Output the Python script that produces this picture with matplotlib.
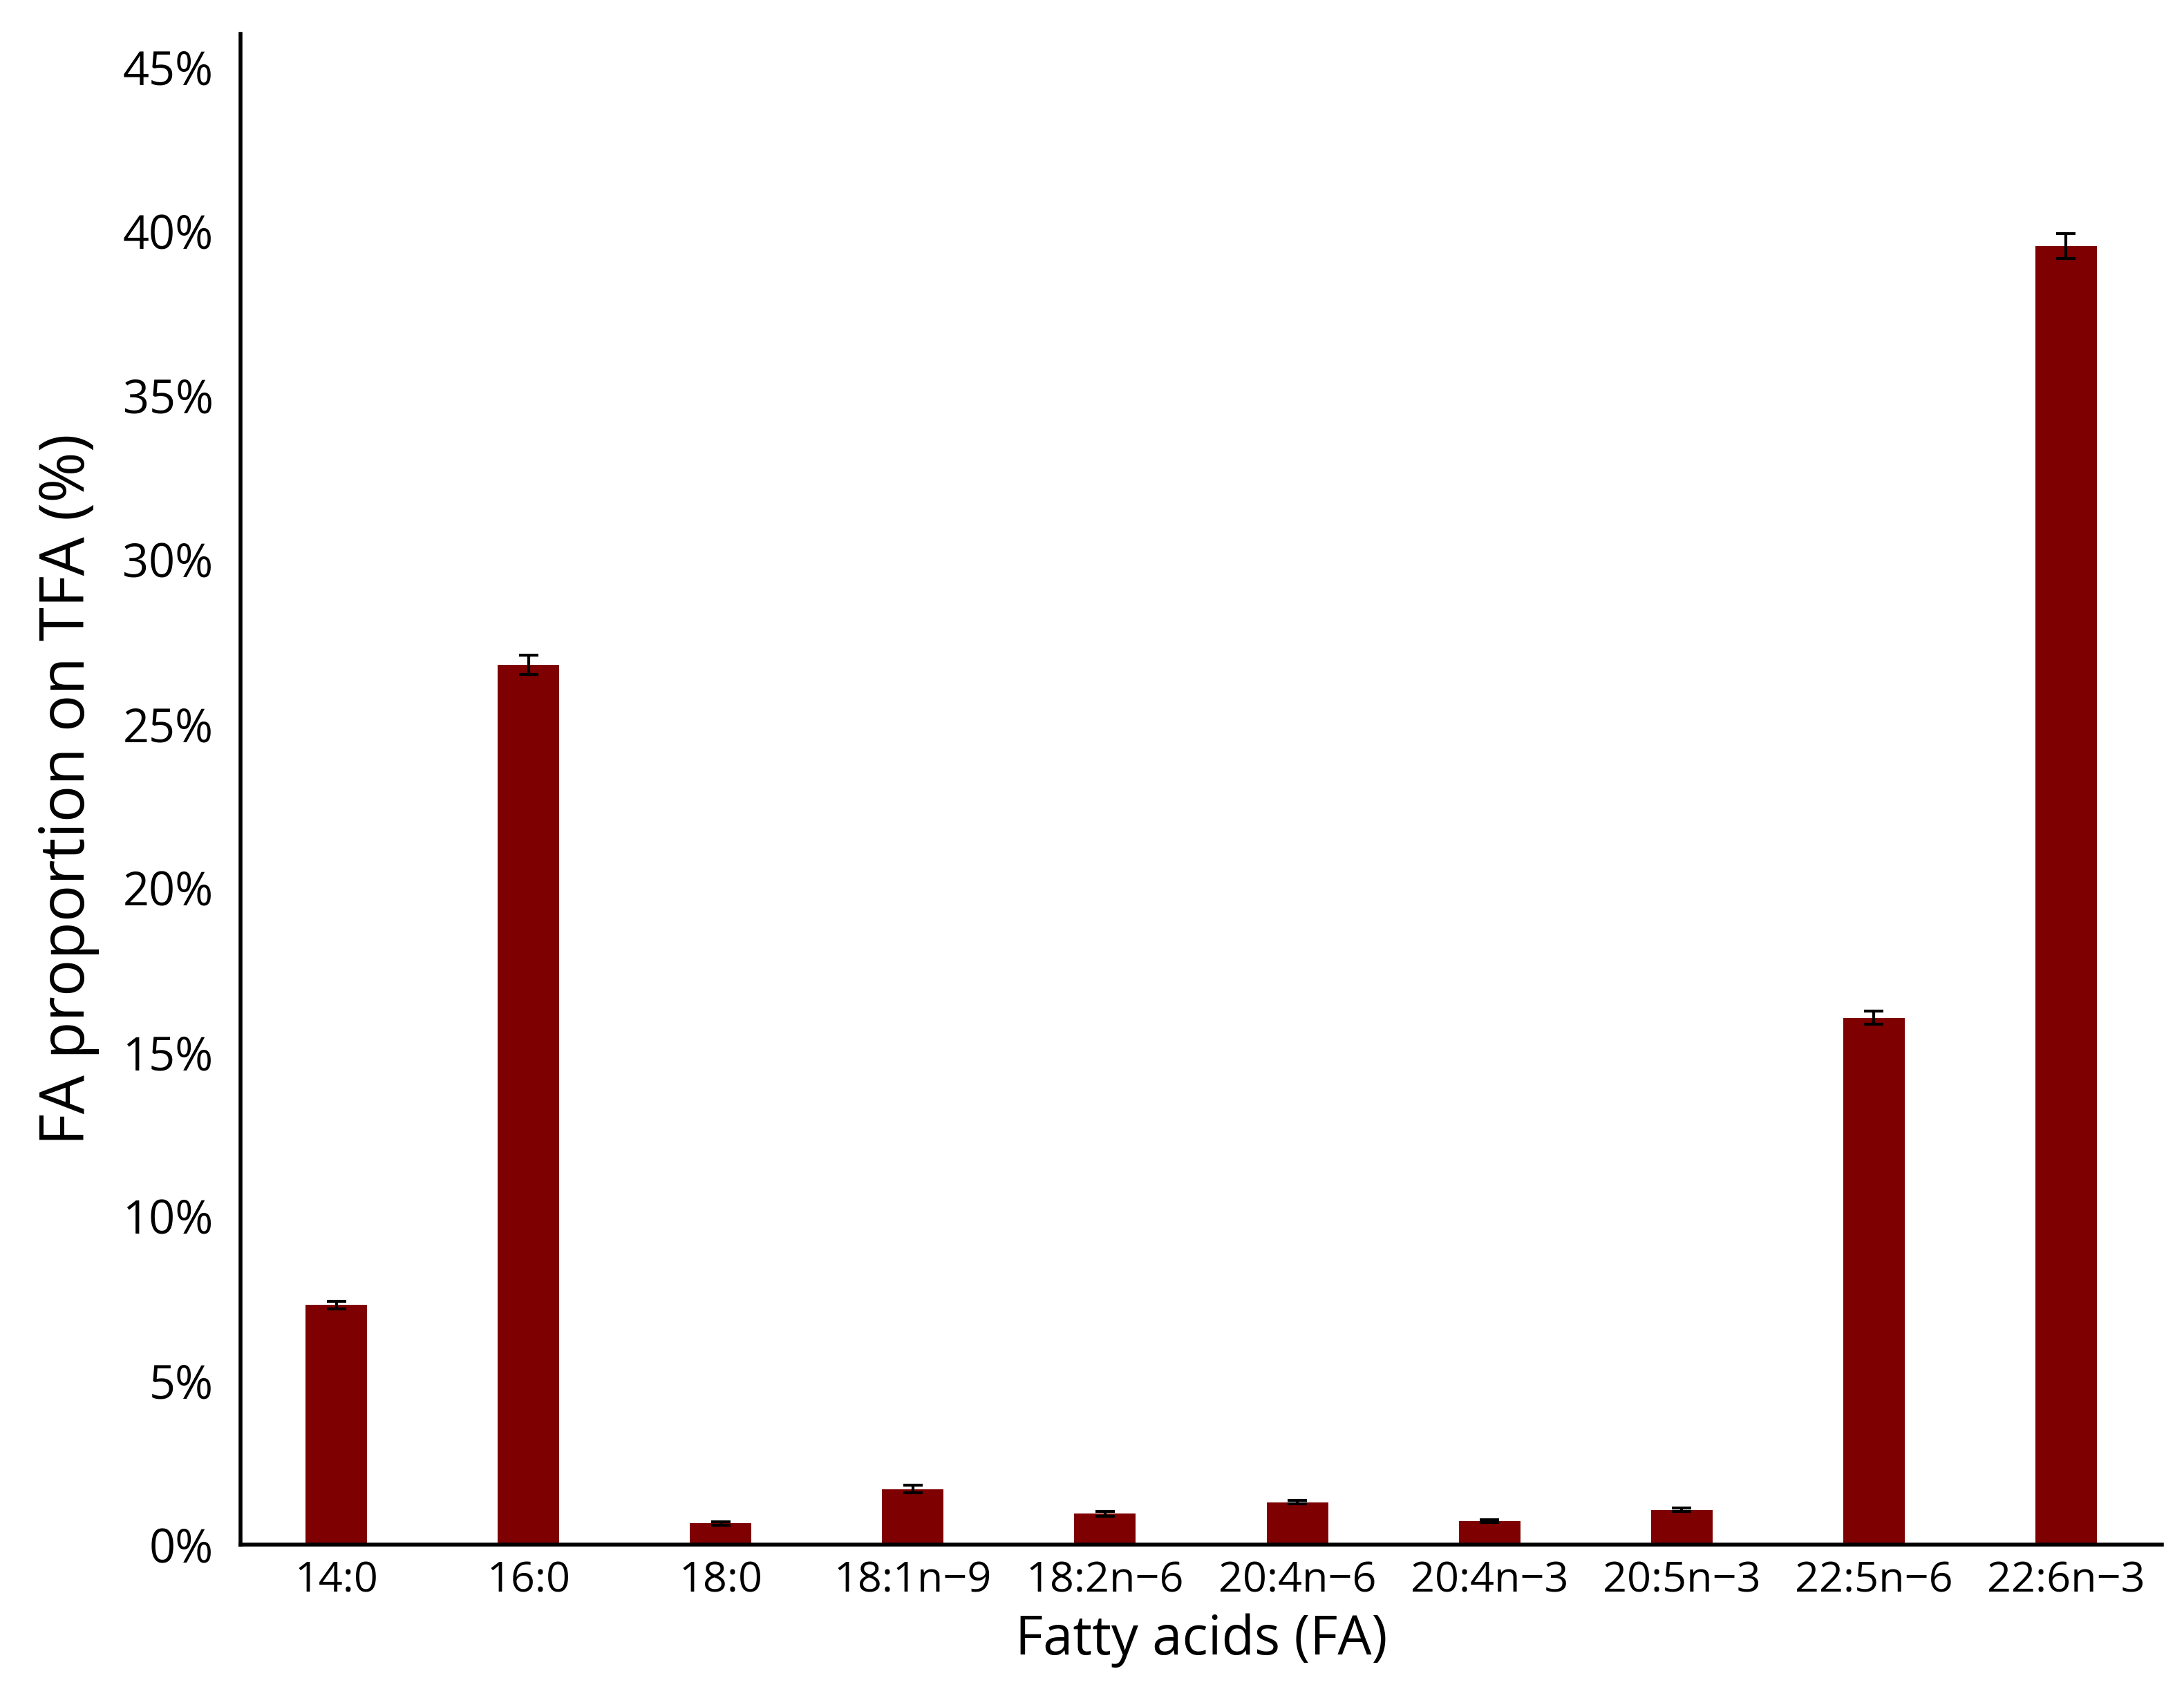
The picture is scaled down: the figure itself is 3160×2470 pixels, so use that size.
import matplotlib
matplotlib.use("Agg")
import matplotlib.pyplot as plt
from matplotlib.ticker import PercentFormatter

categories = ["14:0", "16:0", "18:0", "18:1n\u22129", "18:2n\u22126", "20:4n\u22126",
              "20:4n\u22123", "20:5n\u22123", "22:5n\u22126", "22:6n\u22123"]
values = [7.3, 26.8, 0.65, 1.7, 0.95, 1.3, 0.72, 1.07, 16.05, 39.55]
errors = [0.12, 0.3, 0.05, 0.12, 0.07, 0.05, 0.04, 0.05, 0.2, 0.38]

plt.rcParams['font.family'] = ['Open Sans', 'DejaVu Sans']
fig = plt.figure(figsize=(15.8, 12.35), dpi=200)
ax = fig.add_axes([0.11, 0.095, 0.88, 0.885])
x = range(len(categories))
ax.bar(x, values, width=0.32, color="#7f0000", yerr=errors,
       error_kw=dict(ecolor="black", elinewidth=1.5, capsize=5, capthick=1.5))
ax.set_xlim(-0.5, 9.5)
ax.set_ylim(0, 46)
ax.set_yticks(range(0, 46, 5))
ax.yaxis.set_major_formatter(PercentFormatter(decimals=0))
ax.set_xticks(list(x))
ax.set_xticklabels(categories)
ax.tick_params(axis='y', labelsize=24, length=0, pad=14)
ax.tick_params(axis='x', labelsize=22, length=0, pad=8)
for s in ["top", "right"]:
    ax.spines[s].set_visible(False)
ax.spines["left"].set_linewidth(2)
ax.spines["bottom"].set_linewidth(2)
ax.set_ylabel("FA proportion on TFA (%)", fontsize=32, labelpad=12)
ax.set_xlabel("Fatty acids (FA)", fontsize=28, labelpad=6)
fig.savefig("out.png", dpi=200)
